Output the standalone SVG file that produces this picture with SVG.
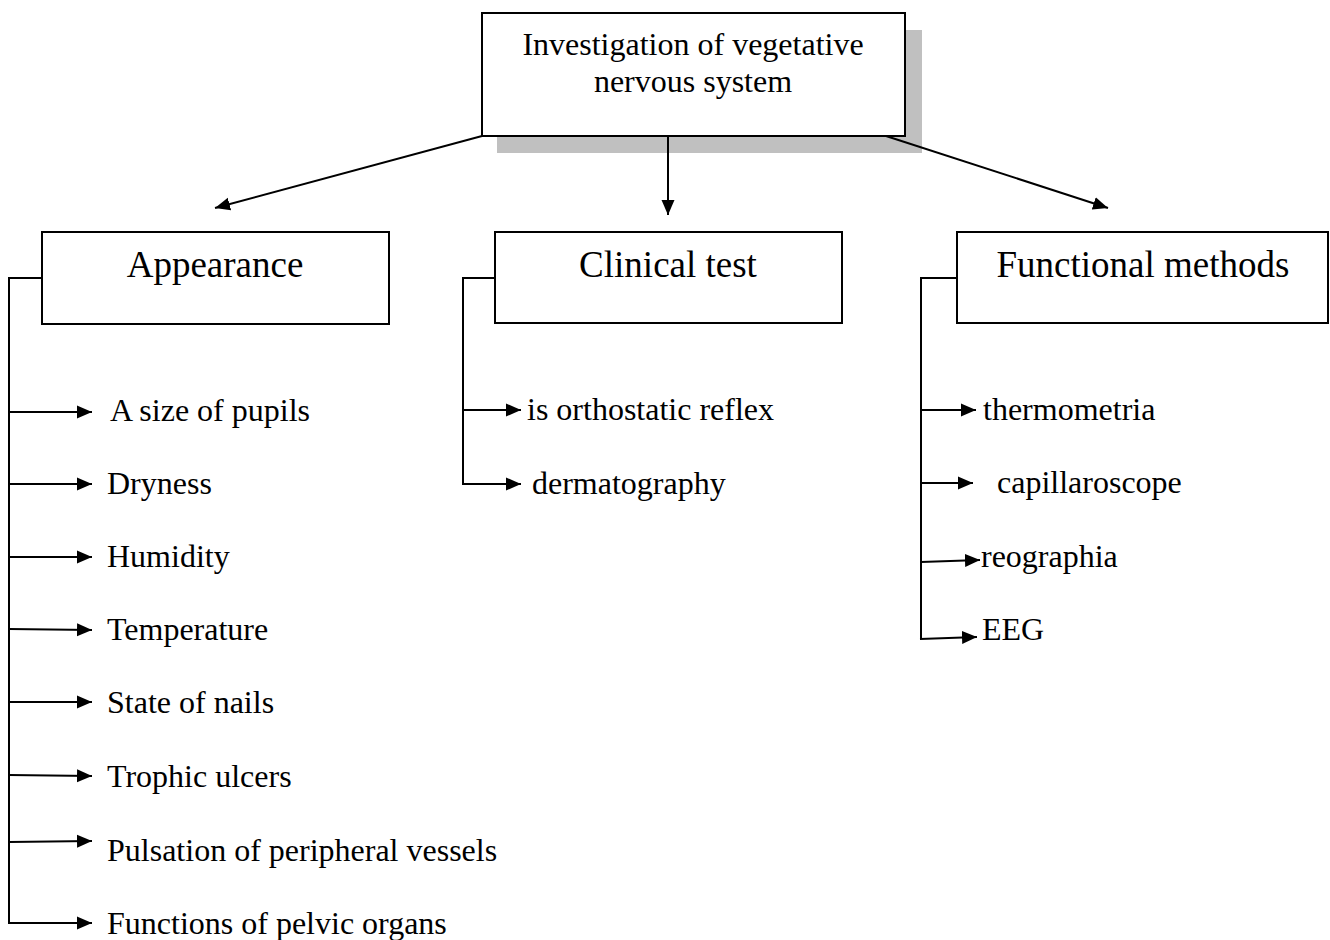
<svg xmlns="http://www.w3.org/2000/svg" width="1330" height="940" viewBox="0 0 1330 940">
<style>
text{font-family:"Liberation Serif","Times New Roman",serif;fill:#000}
.item{font-size:32px}
.head{font-size:37px;text-anchor:middle}
.top{font-size:32px;text-anchor:middle}
.box{fill:#fff;stroke:#000;stroke-width:2}
.ln{fill:none;stroke:#000;stroke-width:2}
.ar{fill:none;stroke:#000;stroke-width:2;marker-end:url(#ah)}
</style>
<defs>
<marker id="ah" markerUnits="userSpaceOnUse" markerWidth="16" markerHeight="14" refX="15" refY="7" orient="auto">
<path d="M0,0.5 L15,7 L0,13.5 Z" fill="#000"/>
</marker>
</defs>
<rect width="1330" height="940" fill="#fff"/>
<g id="root">
<rect x="497" y="30" width="425" height="123" fill="#c0c0c0"/>
<rect class="box" x="482" y="13" width="423" height="123"/>
<text class="top" x="693" y="55">Investigation of vegetative</text>
<text class="top" x="693" y="92">nervous system</text>
</g>
<g id="appearance">
<rect class="box" x="42" y="232" width="347" height="92"/>
<text class="head" x="215" y="277">Appearance</text>
</g>
<g id="clinical">
<rect class="box" x="495" y="232" width="347" height="91"/>
<text class="head" x="668" y="277">Clinical test</text>
</g>
<g id="functional">
<rect class="box" x="957" y="232" width="371" height="91"/>
<text class="head" x="1143" y="277">Functional methods</text>
</g>
<g id="items-appearance">
<text class="item" x="110" y="421">A size of pupils</text>
<text class="item" x="107" y="494">Dryness</text>
<text class="item" x="107" y="567">Humidity</text>
<text class="item" x="107" y="640">Temperature</text>
<text class="item" x="107" y="713">State of nails</text>
<text class="item" x="107" y="787">Trophic ulcers</text>
<text class="item" x="107" y="861">Pulsation of peripheral vessels</text>
<text class="item" x="107" y="934">Functions of pelvic organs</text>
</g>
<g id="items-clinical">
<text class="item" x="527" y="420">is orthostatic reflex</text>
<text class="item" x="532" y="494">dermatography</text>
</g>
<g id="items-functional">
<text class="item" x="983" y="420">thermometria</text>
<text class="item" x="997" y="493">capillaroscope</text>
<text class="item" x="981" y="567">reographia</text>
<text class="item" x="982" y="640">EEG</text>
</g>
<g id="connectors">
<line class="ar" x1="668" y1="136" x2="668" y2="215"/>
<line class="ar" x1="482" y1="136" x2="215" y2="208"/>
<line class="ar" x1="886" y1="136" x2="1108" y2="208"/>
<polyline class="ln" points="42,278 9,278 9,923"/>
<line class="ar" x1="9" y1="412" x2="92" y2="412"/>
<line class="ar" x1="9" y1="484" x2="92" y2="484"/>
<line class="ar" x1="9" y1="557" x2="92" y2="557"/>
<line class="ar" x1="9" y1="629" x2="92" y2="630"/>
<line class="ar" x1="9" y1="702" x2="92" y2="702"/>
<line class="ar" x1="9" y1="775" x2="92" y2="776"/>
<line class="ar" x1="9" y1="842" x2="92" y2="841"/>
<line class="ar" x1="8" y1="923" x2="92" y2="923"/>
<polyline class="ln" points="495,278 463,278 463,484"/>
<line class="ar" x1="463" y1="410" x2="521" y2="410"/>
<line class="ar" x1="462" y1="484" x2="521" y2="484"/>
<polyline class="ln" points="957,278 921,278 921,639"/>
<line class="ar" x1="921" y1="410" x2="976" y2="410"/>
<line class="ar" x1="921" y1="483" x2="973" y2="483"/>
<line class="ar" x1="921" y1="562" x2="980" y2="560"/>
<line class="ar" x1="920" y1="639" x2="977" y2="637"/>
</g>
</svg>
